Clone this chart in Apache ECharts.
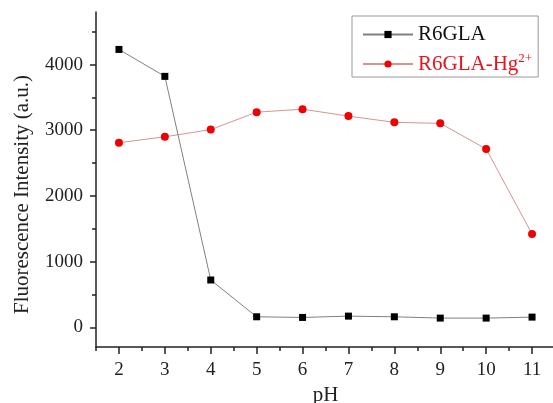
<!DOCTYPE html>
<html>
<head>
<meta charset="utf-8">
<script src="https://cdn.jsdelivr.net/npm/echarts@6/dist/echarts.min.js"></script>
<style>
  html, body { margin: 0; padding: 0; background: #fff; }
  #chart { width: 553px; height: 403px; }
</style>
</head>
<body>
<div id="chart"></div>
<script>
var phValues = [2, 3, 4, 5, 6, 7, 8, 9, 10, 11];
var r6gla = [4230, 3820, 720, 160, 150, 170, 160, 140, 140, 155];
var r6glaHg = [2810, 2900, 3010, 3275, 3320, 3215, 3120, 3105, 2715, 1420];
var yMajor = [0, 1000, 2000, 3000, 4000];
var yMinor = [500, 1500, 2500, 3500, 4500];
var xMajor = [2, 3, 4, 5, 6, 7, 8, 9, 10, 11];
var xMinor = [1.5, 2.5, 3.5, 4.5, 5.5, 6.5, 7.5, 8.5, 9.5, 10.5, 11.5];

function pairs(xs, ys) {
    var out = [];
    for (var i = 0; i < xs.length; i++) {
        out.push([xs[i], ys[i]]);
    }
    return out;
}

var serif = "'Liberation Serif', 'Times New Roman', serif";
var axisColor = '#222';

var myChart = echarts.init(document.getElementById('chart'));
var option = {
    animation: false,
    grid: { left: 96, top: 12, right: -2, bottom: 56, outerBoundsMode: 'none' },
    legend: {
        left: 352,
        top: 16,
        orient: 'vertical',
        padding: [8, 6, 2, 10],
        itemGap: 7,
        itemWidth: 50,
        itemHeight: 9,
        itemTextGap: 6,
        borderColor: '#999',
        borderWidth: 1,
        data: ['R6GLA', 'R6GLA-Hg2+'],
        formatter: function (name) {
            if (name === 'R6GLA-Hg2+') {
                return '{r|R6GLA-Hg}{rs|2+}';
            }
            return '{k|R6GLA}';
        },
        textStyle: {
            fontFamily: serif,
            fontSize: 21,
            rich: {
                k: { fontFamily: serif, fontSize: 21, color: '#111', lineHeight: 24 },
                r: { fontFamily: serif, fontSize: 21, color: '#e8141c', lineHeight: 24 },
                rs: { fontFamily: serif, fontSize: 13, color: '#e8141c', verticalAlign: 'top', lineHeight: 24, padding: [0, 0, 10, 0] }
            }
        }
    },
    xAxis: [
        {
            type: 'value',
            min: 1.5,
            max: 11.5,
            name: 'pH',
            nameLocation: 'middle',
            nameGap: 32,
            nameTextStyle: { fontFamily: serif, fontSize: 21, color: axisColor },
            axisLine: { onZero: false, lineStyle: { color: axisColor, width: 1.5 } },
            axisTick: { inside: false, length: 7, customValues: xMajor, lineStyle: { color: axisColor, width: 1.5 } },
            axisLabel: { margin: 14, customValues: xMajor, fontFamily: serif, fontSize: 19, color: axisColor },
            splitLine: { show: false }
        },
        {
            type: 'value',
            min: 1.5,
            max: 11.5,
            position: 'bottom',
            axisLine: { show: false, onZero: false },
            axisTick: { inside: false, length: 4, customValues: xMinor, lineStyle: { color: axisColor, width: 1.5 } },
            axisLabel: { show: false },
            splitLine: { show: false }
        }
    ],
    yAxis: [
        {
            type: 'value',
            min: -300,
            max: 4800,
            name: 'Fluorescence Intensity (a.u.)',
            nameLocation: 'middle',
            nameGap: 63,
            nameTextStyle: { fontFamily: serif, fontSize: 21, color: axisColor, padding: [0, 30, 0, 0] },
            axisLine: { show: true, onZero: false, lineStyle: { color: axisColor, width: 1.5 } },
            axisTick: { show: true, inside: false, length: 6, customValues: yMajor, lineStyle: { color: axisColor, width: 1.5 } },
            axisLabel: {
                margin: 13,
                customValues: yMajor,
                fontFamily: serif,
                fontSize: 19,
                color: axisColor,
                formatter: function (v) { return String(v); }
            },
            splitLine: { show: false }
        },
        {
            type: 'value',
            min: -300,
            max: 4800,
            position: 'left',
            axisLine: { show: false, onZero: false },
            axisTick: { show: true, inside: false, length: 4, customValues: yMinor, lineStyle: { color: axisColor, width: 1.5 } },
            axisLabel: { show: false },
            splitLine: { show: false }
        }
    ],
    series: [
        {
            name: 'R6GLA',
            type: 'line',
            z: 3,
            data: pairs(phValues, r6gla),
            symbol: 'rect',
            symbolSize: 7,
            itemStyle: { color: '#000' },
            lineStyle: { color: '#808080', width: 1 }
        },
        {
            name: 'R6GLA-Hg2+',
            type: 'line',
            z: 2,
            data: pairs(phValues, r6glaHg),
            symbol: 'circle',
            symbolSize: 8,
            itemStyle: { color: '#f00000' },
            lineStyle: { color: '#d49494', width: 1 }
        }
    ]
};
myChart.setOption(option);
</script>
</body>
</html>
